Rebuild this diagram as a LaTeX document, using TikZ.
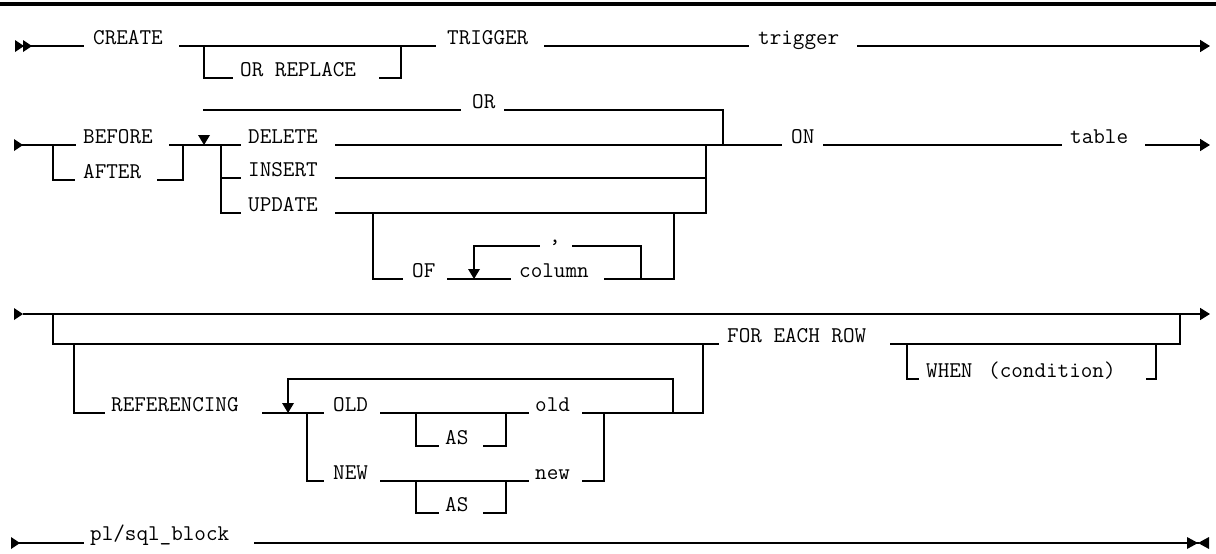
\documentclass[tikz,border=0pt]{standalone}
\usepackage{fontspec}
\usetikzlibrary{arrows.meta}
\tikzset{
  rr/.style={line width=1.8pt, line cap=rect},
  kw/.style={anchor=base west, inner sep=0pt, font=\ttfamily\fontsize{22.5}{24}\selectfont},
  rarr/.style={-{Triangle[length=10pt,width=12pt]}},
}
\begin{document}
\begin{tikzpicture}[x=1pt,y=-1pt]
\useasboundingbox[fill=white] (0,0) rectangle (1216,554);
\fill (0,2) rectangle (1216,6);

% ---------- Row 1 ----------
\coordinate (r1s) at (31,46);   \coordinate (r1a) at (83,46);
\coordinate (r1b) at (180,46);  \coordinate (r1j1) at (204,46);
\coordinate (r1orl) at (232,78);\coordinate (r1orr) at (380,78);
\coordinate (r1j2) at (401,46); \coordinate (r1c) at (435,46);
\coordinate (r1d) at (545,46);  \coordinate (r1e) at (748,46);
\coordinate (r1f) at (858,46);  \coordinate (r1g) at (1210,46);
\node[kw] (create) at (93,44) {CREATE};
\node[kw] (orrep) at (240,76) {OR REPLACE};
\node[kw] (trig) at (447,44) {TRIGGER};
\node[kw] (trign) at (758,44) {trigger};
\fill (r1s) ++(-16,-6) -- ++(9,6) -- ++(-9,6) -- cycle;
\fill (r1s) ++(-8,-6) -- ++(9,6) -- ++(-9,6) -- cycle;
\draw[rr] (r1s) -- (r1a);
\draw[rr] (r1b) -- (r1c);
\draw[rr] (r1j1) |- (r1orl);
\draw[rr] (r1orr) -| (r1j2);
\draw[rr] (r1d) -- (r1e);
\draw[rr,rarr] (r1f) -- (r1g);

% ---------- Row 2 ----------
\coordinate (s2) at (22,145);   \coordinate (r2a) at (75,145);
\coordinate (b1) at (53,145);   \coordinate (b1e) at (74,180);
\coordinate (a1) at (158,180);  \coordinate (a3) at (183,145);
\coordinate (r2b) at (170,145); \coordinate (r2c) at (240,145);
\coordinate (arr1) at (204,145);
\coordinate (or1) at (204,110); \coordinate (or2) at (460,110);
\coordinate (or3) at (505,110); \coordinate (or5) at (723,145);
\coordinate (d1) at (221,145);  \coordinate (d1c) at (240,178);
\coordinate (d1e) at (240,213);
\coordinate (del1) at (336,145);\coordinate (on0) at (781,145);
\coordinate (ins1) at (336,178);\coordinate (ins2) at (706,178);
\coordinate (upd1) at (336,213);\coordinate (upd2) at (706,213);
\coordinate (del2) at (706,145);
\coordinate (of1) at (373,213); \coordinate (of2) at (402,279);
\coordinate (of3) at (448,279); \coordinate (of4) at (510,279);
\coordinate (arr2) at (474,279);
\coordinate (of5) at (605,279); \coordinate (of7) at (674,213);
\coordinate (lp1) at (641,279); \coordinate (lp3) at (573,246);
\coordinate (lp4) at (539,246); \coordinate (lp6) at (474,270);
\coordinate (on1) at (824,145); \coordinate (on2) at (1061,145);
\coordinate (on3) at (1146,145);\coordinate (on4) at (1210,145);
\node[kw] (before) at (83,143) {BEFORE};
\node[kw] (after) at (83,178) {AFTER};
\node[kw] (ortxt) at (472,108) {OR};
\node[kw] (delete) at (248,143) {DELETE};
\node[kw] (insert) at (248,176) {INSERT};
\node[kw] (update) at (248,211) {UPDATE};
\node[kw] (of) at (412,277) {OF};
\node[kw] (column) at (519,277) {column};
\node[kw] (comma) at (549,242) {,};
\node[kw] (on) at (791,143) {ON};
\node[kw] (table) at (1070,143) {table};
\fill (s2) ++(-8,-6) -- ++(9,6) -- ++(-9,6) -- cycle;
\draw[rr] (s2) -- (r2a);
\draw[rr] (b1) |- (b1e);
\draw[rr] (a1) -| (a3);
\draw[rr] (r2b) -- (r2c);
\fill (arr1) ++(-6,-10) -- ++(12,0) -- ++(-6,10) -- cycle;
\draw[rr] (or1) -- (or2);
\draw[rr] (or3) -| (or5);
\draw[rr] (d1) |- (d1c);
\draw[rr] (d1) |- (d1e);
\draw[rr] (del1) -- (on0);
\draw[rr] (ins1) -- (ins2);
\draw[rr] (upd1) -- (upd2) -- (del2);
\draw[rr] (of1) |- (of2);
\draw[rr] (of3) -- (of4);
\fill (arr2) ++(-6,-10) -- ++(12,0) -- ++(-6,10) -- cycle;
\draw[rr] (of5) -| (of7);
\draw[rr] (lp1) |- (lp3);
\draw[rr] (lp4) -| (lp6);
\draw[rr] (on1) -- (on2);
\draw[rr,rarr] (on3) -- (on4);

% ---------- Row 3 ----------
\coordinate (s3) at (24,314);   \coordinate (e3) at (1210,314);
\coordinate (f1) at (53,314);   \coordinate (f2) at (718,344);
\coordinate (f3) at (891,344);  \coordinate (f5) at (1180,314);
\coordinate (w1) at (907,344);  \coordinate (w2) at (918,379);
\coordinate (w3) at (1147,379); \coordinate (w5) at (1156,344);
\coordinate (rf1) at (74,344);  \coordinate (rf2) at (104,413);
\coordinate (rf3) at (263,413); \coordinate (rf4) at (323,413);
\coordinate (arr3) at (288,413);
\coordinate (n1) at (307,413);  \coordinate (n2) at (323,481);
\coordinate (o1) at (381,413);  \coordinate (o2) at (528,413);
\coordinate (as1) at (416,413); \coordinate (as1e) at (438,446);
\coordinate (as1f) at (484,446);\coordinate (as1h) at (506,413);
\coordinate (o3) at (583,413);  \coordinate (o4) at (703,413);
\coordinate (o5) at (703,344);
\coordinate (ol1) at (673,413); \coordinate (ol3) at (288,379);
\coordinate (ol4) at (288,404);
\coordinate (nw1) at (381,481); \coordinate (nw2) at (528,481);
\coordinate (as2) at (416,481); \coordinate (as2e) at (438,513);
\coordinate (as2f) at (484,513);\coordinate (as2h) at (506,481);
\coordinate (nw3) at (583,481); \coordinate (nw5) at (604,413);
\node[kw] (foreach) at (727,342) {FOR EACH ROW};
\node[kw] (when) at (926,377) {WHEN};
\node[kw] (cond) at (988,377) {(condition)};
\node[kw] (refer) at (111,411) {REFERENCING};
\node[kw] (OLD) at (333,411) {OLD};
\node[kw] (NEW) at (333,479) {NEW};
\node[kw] (as1t) at (445,444) {AS};
\node[kw] (as2t) at (445,511) {AS};
\node[kw] (old) at (535,411) {old};
\node[kw] (new) at (535,479) {new};
\fill (s3) ++(-10,-6) -- ++(9,6) -- ++(-9,6) -- cycle;
\draw[rr,rarr] (s3) -- (e3);
\draw[rr] (f1) |- (f2);
\draw[rr] (f3) -| (f5);
\draw[rr] (w1) |- (w2);
\draw[rr] (w3) -| (w5);
\draw[rr] (rf1) |- (rf2);
\draw[rr] (rf3) -- (rf4);
\fill (arr3) ++(-6,-10) -- ++(12,0) -- ++(-6,10) -- cycle;
\draw[rr] (n1) |- (n2);
\draw[rr] (o1) -- (o2);
\draw[rr] (as1) |- (as1e);
\draw[rr] (as1f) -| (as1h);
\draw[rr] (o3) -- (o4) -- (o5);
\draw[rr] (ol1) |- (ol3) -- (ol4);
\draw[rr] (nw1) -- (nw2);
\draw[rr] (as2) |- (as2e);
\draw[rr] (as2f) -| (as2h);
\draw[rr] (nw3) -| (nw5);

% ---------- Row 4 ----------
\coordinate (s4) at (20,543);  \coordinate (p1) at (83,543);
\coordinate (p2) at (255,543); \coordinate (p3) at (1198,543);
\node[kw] (plsql) at (90,540) {pl/sql\_block};
\fill (s4) ++(-9,-6) -- ++(9,6) -- ++(-9,6) -- cycle;
\draw[rr] (s4) -- (p1);
\draw[rr] (p2) -- (p3);
\fill (p3) ++(-11,-6) -- ++(11,6) -- ++(-11,6) -- cycle;
\fill (p3) ++(11,-6) -- ++(-11,6) -- ++(11,6) -- cycle;
\end{tikzpicture}
\end{document}
